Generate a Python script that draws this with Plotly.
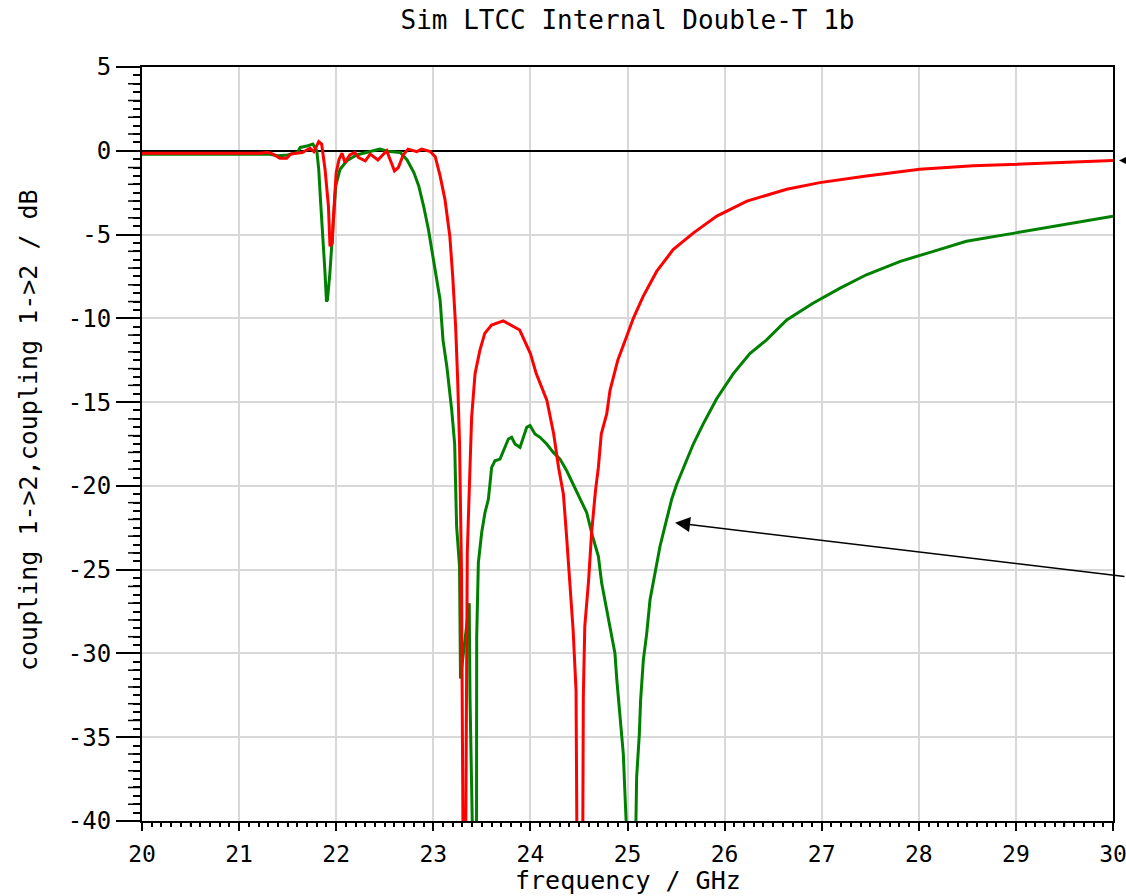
import plotly.graph_objects as go

# ---- data -------------------------------------------------------------
# coupling 1->2, first design (green)
freq_green = [20.0, 21.0, 21.3, 21.4, 21.5, 21.6, 21.63, 21.71, 21.76, 21.80,
              21.82, 21.84, 21.87, 21.885, 21.90, 21.91, 21.935, 21.95, 21.97, 21.995,
              22.04, 22.11, 22.21, 22.31, 22.45, 22.55, 22.66, 22.73, 22.80, 22.85,
              22.90, 22.95, 22.99, 23.035, 23.07, 23.10, 23.14, 23.19, 23.22, 23.23,
              23.24, 23.27, 23.28, 23.33, 23.37, 23.378, 23.40, 23.42, 23.445, 23.447,
              23.464, 23.498, 23.532, 23.567, 23.601, 23.635, 23.687, 23.721, 23.773, 23.807,
              23.841, 23.893, 23.927, 23.962, 23.996, 24.047, 24.099, 24.168, 24.236, 24.305,
              24.374, 24.442, 24.511, 24.58, 24.64, 24.70, 24.734, 24.768, 24.82, 24.871,
              24.889, 24.923, 24.957, 24.974, 24.985, 25.03, 25.087, 25.094, 25.122, 25.135,
              25.163, 25.198, 25.232, 25.283, 25.335, 25.386, 25.455, 25.507, 25.592, 25.678,
              25.78, 25.918, 26.09, 26.26, 26.43, 26.64, 26.91, 27.19, 27.46, 27.81,
              28.15, 28.49, 29.0, 29.52, 30.0]
db_green = [-0.2, -0.2, -0.2, -0.3, -0.25, -0.1, 0.2, 0.3, 0.4, 0.0,
            -1.1, -3.1, -5.7, -7.3, -9.0, -8.9, -7.3, -6.1, -4.1, -2.1,
            -1.1, -0.6, -0.25, -0.1, 0.1, -0.05, -0.1, -0.55, -1.3, -2.1,
            -3.3, -4.7, -6.1, -7.7, -8.9, -11.3, -12.9, -15.5, -17.5, -20.0,
            -22.4, -24.8, -31.5, -29.0, -27.0, -32.6, -40.0, -46.0, -40.0, -29.0,
            -24.6, -22.8, -21.6, -20.8, -18.9, -18.5, -18.4, -17.9, -17.2, -17.1,
            -17.5, -17.7, -17.1, -16.5, -16.4, -16.9, -17.1, -17.5, -18.0, -18.4,
            -19.1, -19.9, -20.7, -21.6, -23.0, -24.2, -25.8, -26.8, -28.4, -30.0,
            -31.5, -34.0, -36.0, -38.4, -40.0, -46.0, -40.0, -37.4, -34.8, -32.8,
            -30.4, -28.8, -26.8, -25.2, -23.6, -22.4, -20.8, -19.9, -18.7, -17.5,
            -16.3, -14.8, -13.3, -12.1, -11.3, -10.1, -9.1, -8.2, -7.4, -6.6,
            -6.0, -5.4, -4.9, -4.4, -3.9]

# coupling 1->2, second design (red)
freq_red = [20.0, 20.5, 21.0, 21.2, 21.3, 21.35, 21.42, 21.49, 21.53, 21.65,
            21.73, 21.77, 21.82, 21.85, 21.885, 21.92, 21.936, 21.96, 21.97, 22.0,
            22.03, 22.06, 22.09, 22.14, 22.19, 22.23, 22.30, 22.35, 22.43, 22.52,
            22.55, 22.60, 22.64, 22.69, 22.74, 22.83, 22.88, 22.97, 23.02, 23.07,
            23.12, 23.17, 23.2, 23.23, 23.25, 23.27, 23.29, 23.30, 23.31, 23.33,
            23.345, 23.35, 23.38, 23.395, 23.43, 23.48, 23.53, 23.6, 23.72, 23.8,
            23.89, 24.0, 24.06, 24.17, 24.24, 24.29, 24.34, 24.37, 24.41, 24.44,
            24.47, 24.478, 24.51, 24.54, 24.545, 24.56, 24.6, 24.63, 24.67, 24.7,
            24.73, 24.786, 24.82, 24.87, 24.9, 24.99, 25.06, 25.16, 25.3, 25.47,
            25.68, 25.92, 26.23, 26.64, 26.98, 27.46, 28.01, 28.56, 29.0, 29.52,
            30.0]
db_red = [-0.15, -0.15, -0.15, -0.15, -0.1, -0.2, -0.45, -0.45, -0.2, -0.1,
          0.15, -0.05, 0.55, 0.4, -1.1, -3.3, -5.7, -5.5, -4.1, -1.3,
          -0.5, -0.15, -0.7, -0.25, -0.1, -0.4, -0.6, -0.2, -0.55, 0.0,
          -0.45, -1.2, -1.0, -0.25, 0.1, -0.05, 0.1, -0.05, -0.35, -1.5,
          -2.9, -5.1, -7.5, -10.5, -13.5, -17.4, -25.0, -32.0, -45.0, -45.0,
          -31.0, -24.0, -18.5, -15.9, -13.3, -11.9, -10.9, -10.4, -10.15, -10.4,
          -10.7, -12.1, -13.3, -14.9, -16.9, -18.9, -20.5, -22.8, -26.0, -28.6,
          -32.2, -40.0, -46.0, -40.0, -32.6, -28.4, -25.6, -22.8, -20.3, -18.9,
          -16.9, -15.7, -14.3, -13.2, -12.5, -11.1, -10.0, -8.7, -7.2, -5.9,
          -4.9, -3.9, -3.0, -2.3, -1.9, -1.5, -1.1, -0.9, -0.8, -0.7,
          -0.58]

x_tick_vals = [20, 21, 22, 23, 24, 25, 26, 27, 28, 29, 30]
x_tick_text = ["20", "21", "22", "23", "24", "25", "26", "27", "28", "29", "30"]
y_tick_vals = [5, 0, -5, -10, -15, -20, -25, -30, -35, -40]
y_tick_text = ["5", "0", "-5", "-10", "-15", "-20", "-25", "-30", "-35", "-40"]

# ---- figure -------------------------------------------------------------
FONT = "DejaVu Sans Mono"
W, H = 1126, 896
ML, MR, MT, MB = 142, 13, 67, 75
PW, PH = W - ML - MR, H - MT - MB

fig = go.Figure()
fig.add_trace(go.Scatter(x=freq_green, y=db_green, mode="lines",
                         line=dict(color="#008000", width=3), showlegend=False))
fig.add_trace(go.Scatter(x=freq_red, y=db_red, mode="lines",
                         line=dict(color="#FF0000", width=3), showlegend=False))

axis_common = dict(
    showline=True, linecolor="black", linewidth=2, mirror=True,
    ticks="outside", tickcolor="black", tickwidth=1.5,
    showgrid=True, gridcolor="#D8D8D8", gridwidth=2,
    ticklabeloverflow="allow",
)

fig.update_xaxes(
    range=[20, 30], tickmode="array", tickvals=x_tick_vals, ticktext=x_tick_text,
    ticklen=8, zeroline=False, ticklabelstandoff=3,
    tickfont=dict(family=FONT, size=23, color="black"),
    minor=dict(dtick=0.1, ticklen=4, tickcolor="black", tickwidth=1.5, ticks="outside",
               showgrid=False),
    **axis_common,
)
fig.update_yaxes(
    range=[-40, 5], tickmode="array", tickvals=y_tick_vals, ticktext=y_tick_text,
    ticklen=24, ticklabelstandoff=0,
    tickfont=dict(family=FONT, size=24, color="black"),
    zeroline=True, zerolinecolor="black", zerolinewidth=1.5,
    minor=dict(dtick=0.5, ticklen=7, tickcolor="black", tickwidth=1.5, ticks="outside",
               showgrid=False),
    **axis_common,
)

# intermediate tick marks: half-GHz on x, whole dB on y
shapes = []
for i in range(20):
    xv = 20.5 + i * 0.5
    if abs(xv - round(xv)) > 1e-9:
        shapes.append(dict(type="line", xref="x", yref="paper", x0=xv, x1=xv,
                           y0=0, y1=-5.5 / PH, line=dict(color="black", width=1.5)))
for v in range(4, -40, -1):
    if v % 5 != 0:
        shapes.append(dict(type="line", xref="paper", yref="y", x0=0, x1=-14 / PW,
                           y0=v, y1=v, line=dict(color="black", width=1.5)))

annotations = [
    # axis titles
    dict(text="frequency / GHz", xref="paper", yref="paper", x=0.5, y=-60 / PH,
         xanchor="center", yanchor="middle", showarrow=False,
         font=dict(family=FONT, size=25, color="black")),
    dict(text="coupling 1->2,coupling 1->2 / dB", xref="paper", yref="paper",
         x=(28 - ML) / PW, y=(H - MB - 430) / PH, textangle=-90,
         xanchor="center", yanchor="middle", showarrow=False,
         font=dict(family=FONT, size=25, color="black")),
    # pointer arrows
    dict(text="", xref="paper", yref="y", x=(1119 - ML) / PW, y=-0.58,
         showarrow=True, arrowhead=2, arrowsize=2, arrowwidth=1.5, arrowcolor="black",
         ax=45, ay=0),
    dict(text="", xref="x", yref="y", x=25.49, y=-22.2,
         showarrow=True, arrowhead=2, arrowsize=2, arrowwidth=1.5, arrowcolor="black",
         ax=485, ay=54),
]

fig.update_layout(
    width=W, height=H,
    margin=dict(l=ML, r=MR, t=MT, b=MB, autoexpand=False),
    paper_bgcolor="white", plot_bgcolor="white",
    title=dict(text="Sim LTCC Internal Double-T 1b", x=0.5, xref="paper", xanchor="center",
               y=1 - 20 / H, yref="container", yanchor="middle",
               font=dict(family=FONT, size=26, color="black")),
    shapes=shapes, annotations=annotations,
)

fig.write_html("out.html")
